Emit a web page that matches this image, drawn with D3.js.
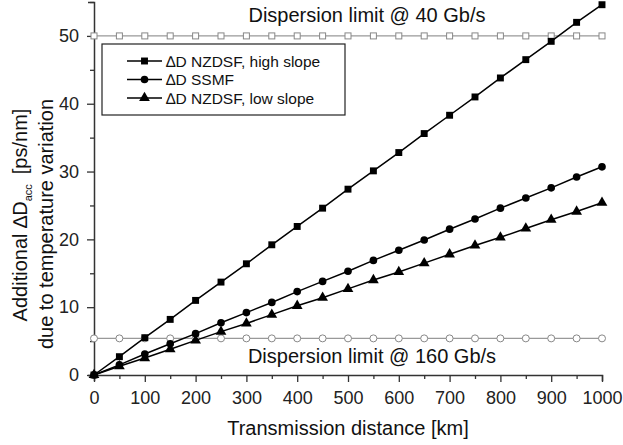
<!DOCTYPE html>
<html>
<head>
<meta charset="utf-8">
<script src="https://cdn.jsdelivr.net/npm/d3@7"></script>
<style>
  body { margin: 0; background: #fff; }
  svg { font-family: "Liberation Sans", Arial, sans-serif; }
</style>
</head>
<body>
<svg id="chart" width="623" height="445"></svg>
<script>
// distance [km]
const distance = [0, 50, 100, 150, 200, 250, 300, 350, 400, 450, 500,
  550, 600, 650, 700, 750, 800, 850, 900, 950, 1000];

// ΔD values [ps/nm]
const nzdsfHigh = [0, 2.7, 5.5, 8.2, 11.0, 13.7, 16.4, 19.2, 21.9, 24.6, 27.4,
  30.1, 32.8, 35.6, 38.3, 41.0, 43.8, 46.5, 49.2, 52.0, 54.6];
const ssmf = [0, 1.5, 3.1, 4.6, 6.1, 7.7, 9.2, 10.7, 12.3, 13.8, 15.3,
  16.9, 18.4, 19.9, 21.5, 23.0, 24.6, 26.1, 27.6, 29.2, 30.7];
const nzdsfLow = [0, 1.3, 2.5, 3.8, 5.1, 6.4, 7.6, 8.9, 10.2, 11.4, 12.7,
  14.0, 15.2, 16.5, 17.8, 19.1, 20.3, 21.6, 22.9, 24.1, 25.4];

// dispersion limits
const limit40 = 50;
const limit160 = 5.4;

const xTicks = [0, 100, 200, 300, 400, 500, 600, 700, 800, 900, 1000];
const yTicks = [0, 10, 20, 30, 40, 50];

const svg = d3.select("#chart");
const x = d3.scaleLinear().domain([0, 1000]).range([94, 602]);
const y = d3.scaleLinear().domain([0, 55]).range([375, 2]);

// axes
svg.append("g")
  .attr("transform", `translate(0,${y(0)})`)
  .call(d3.axisBottom(x).tickValues(d3.range(0, 1001, 50)).tickSize(6).tickFormat(""))
  .call((g) => g.selectAll(".tick line").attr("y2", (d) => (d % 100 === 0 ? 7 : 4)));
svg.append("g")
  .attr("transform", `translate(0,${y(0)})`)
  .call(d3.axisBottom(x).tickValues(xTicks).tickSize(0).tickPadding(16).tickFormat(d3.format("d")))
  .call((g) => g.select(".domain").remove());

svg.append("g")
  .attr("transform", `translate(${x(0)},0)`)
  .call(d3.axisLeft(y).tickValues(d3.range(0, 56, 5)).tickSize(6).tickFormat(""))
  .call((g) => g.selectAll(".tick line").attr("x2", (d) => (d % 10 === 0 ? -7 : -4)));
svg.append("g")
  .attr("transform", `translate(${x(0)},0)`)
  .call(d3.axisLeft(y).tickValues(yTicks).tickSize(0).tickPadding(15))
  .call((g) => g.select(".domain").remove());

svg.selectAll(".domain").attr("stroke", "#333").attr("stroke-width", 1.5);
svg.selectAll(".tick line").attr("stroke", "#333").attr("stroke-width", 1.3);
svg.selectAll(".tick text").attr("font-size", 18).attr("fill", "#222")
  .attr("font-family", "Liberation Sans, Arial, sans-serif");

// limit lines
const limits = [
  { value: limit40, shape: "square" },
  { value: limit160, shape: "circle" },
];
limits.forEach((l) => {
  svg.append("line")
    .attr("x1", x(0)).attr("x2", x(1000))
    .attr("y1", y(l.value)).attr("y2", y(l.value))
    .attr("stroke", "#999").attr("stroke-width", 1.3);
  const g = svg.append("g");
  distance.forEach((d) => {
    if (l.shape === "square") {
      g.append("rect")
        .attr("x", x(d) - 3).attr("y", y(l.value) - 3)
        .attr("width", 6).attr("height", 6)
        .attr("fill", "#fff").attr("stroke", "#888").attr("stroke-width", 1);
    } else {
      g.append("circle")
        .attr("cx", x(d)).attr("cy", y(l.value)).attr("r", 3.5)
        .attr("fill", "#fff").attr("stroke", "#888").attr("stroke-width", 1);
    }
  });
});

svg.append("text").attr("x", 367).attr("y", 22).attr("text-anchor", "middle")
  .attr("font-size", 20).attr("fill", "#111").text("Dispersion limit @ 40 Gb/s");
svg.append("text").attr("x", 372).attr("y", 363).attr("text-anchor", "middle")
  .attr("font-size", 20).attr("fill", "#111").text("Dispersion limit @ 160 Gb/s");

// series
const series = [
  { name: "\u2206D NZDSF, high slope", values: nzdsfHigh, symbol: d3.symbolSquare, size: 48 },
  { name: "\u2206D SSMF", values: ssmf, symbol: d3.symbolCircle, size: 46 },
  { name: "\u2206D NZDSF, low slope", values: nzdsfLow, symbol: d3.symbolTriangle, size: 50 },
];

const line = d3.line().x((d) => x(d[0])).y((d) => y(d[1]));

series.forEach((s) => {
  const pts = distance.map((d, i) => [d, s.values[i]]);
  svg.append("path").datum(pts)
    .attr("d", line).attr("fill", "none")
    .attr("stroke", "#000").attr("stroke-width", 1.5);
  svg.selectAll(null).data(pts).enter().append("path")
    .attr("transform", (d) => `translate(${x(d[0])},${y(d[1])})`)
    .attr("d", d3.symbol().type(s.symbol).size(s.size))
    .attr("fill", "#000");
});

// legend
const legend = svg.append("g");
legend.append("rect")
  .attr("x", 102).attr("y", 44).attr("width", 243).attr("height", 71)
  .attr("fill", "#fff").attr("stroke", "#222").attr("stroke-width", 1.2);
series.forEach((s, i) => {
  const ly = 61 + i * 18.5;
  legend.append("line").attr("x1", 127).attr("x2", 162).attr("y1", ly).attr("y2", ly)
    .attr("stroke", "#000").attr("stroke-width", 1.5);
  legend.append("path")
    .attr("transform", `translate(144.5,${ly})`)
    .attr("d", d3.symbol().type(s.symbol).size(s.size))
    .attr("fill", "#000");
  legend.append("text").attr("x", 166).attr("y", ly + 5.5)
    .attr("font-size", 15.5).attr("fill", "#111").text(s.name);
});

// axis titles
svg.append("text").attr("x", 348).attr("y", 435).attr("text-anchor", "middle")
  .attr("font-size", 20).attr("fill", "#111").text("Transmission distance [km]");

const yt = svg.append("text")
  .attr("transform", "translate(27,215) rotate(-90)")
  .attr("text-anchor", "middle").attr("font-size", 20).attr("fill", "#111");
yt.append("tspan").text("Additional \u2206D");
yt.append("tspan").attr("font-size", 11).attr("dy", 5).text("acc");
yt.append("tspan").attr("dy", -5).attr("dx", 10).text("[ps/nm]");

svg.append("text")
  .attr("transform", "translate(53,224) rotate(-90)")
  .attr("text-anchor", "middle").attr("font-size", 20).attr("fill", "#111")
  .text("due to temperature variation");
</script>
</body>
</html>
